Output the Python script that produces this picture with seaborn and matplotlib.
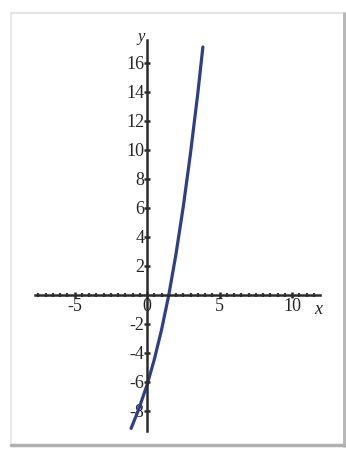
import numpy as np
import pandas as pd
import seaborn as sns
import matplotlib.pyplot as plt
from matplotlib.ticker import FixedLocator
from matplotlib.lines import Line2D

# curve points
curve_x = [-1.1, -0.6, 0.0, 0.5, 1.0, 1.5, 2.0, 2.5, 3.0, 3.5, 3.85]
curve_y = [-9.2, -7.95, -6.2, -4.45, -2.4, 0.0, 2.85, 6.1, 9.8, 13.9, 17.1]

x_ticks = [-5, 0, 5, 10]
x_tick_labels = ["-5", "0", "5", "10"]
y_ticks = [-8, -6, -4, -2, 2, 4, 6, 8, 10, 12, 14, 16]
y_tick_labels = ["-8", "-6", "-4", "-2", "2", "4", "6", "8", "10", "12", "14", "16"]

sns.set_style("white")
plt.rcParams['font.family'] = ['Liberation Serif', 'DejaVu Serif']

fig = plt.figure(figsize=(3.46, 4.5), dpi=100)
ax = fig.add_axes([0, 0, 1, 1])
ax.patch.set_alpha(0)

data = pd.DataFrame({"x": curve_x, "y": curve_y})
sns.lineplot(data=data, x="x", y="y", ax=ax, color="#2e3f88", linewidth=2.3, sort=False)

# axes through the origin
ax.set_xlim(-10.14, 13.72)
ax.set_ylim(-10.69, 20.34)
for side in ["top", "right"]:
    ax.spines[side].set_visible(False)
ax.spines["left"].set_position(("data", 0))
ax.spines["bottom"].set_position(("data", 0))
ax.spines["left"].set_bounds(-9.4, 17.6)
ax.spines["bottom"].set_bounds(-7.7, 11.9)
for side in ["left", "bottom"]:
    ax.spines[side].set_color("#2a2a2a")
    ax.spines[side].set_linewidth(1.8)

ax.xaxis.set_major_locator(FixedLocator(x_ticks))
ax.set_xticklabels(x_tick_labels)
ax.xaxis.set_minor_locator(FixedLocator(list(np.arange(-7.5, 11.6, 0.5))))
ax.yaxis.set_major_locator(FixedLocator(y_ticks))
ax.set_yticklabels(y_tick_labels)

ax.tick_params(axis="both", which="both", bottom=True, left=True)
ax.tick_params(axis="both", which="major", direction="inout", length=4, width=1.8,
               color="#2a2a2a", labelsize=13, labelcolor="#262626", pad=0)
ax.tick_params(axis="x", which="minor", direction="inout", length=3, width=1.6, color="#3a3a3a")
ax.set_xlabel("")
ax.set_ylabel("")

ax.text(11.8, -0.4, "x", fontsize=13, style="italic", color="#262626", ha="center", va="top")
ax.text(-0.15, 17.8, "y", fontsize=12, style="italic", color="#262626", ha="right", va="center")

# scanned frame around the figure
fig.add_artist(Line2D([11 / 346, 344 / 346], [1 - 13 / 450, 1 - 13 / 450],
                      transform=fig.transFigure, color="#e4e4e4", linewidth=1.5))
fig.add_artist(Line2D([11 / 346, 11 / 346], [1 - 13 / 450, 1 - 445 / 450],
                      transform=fig.transFigure, color="#e8e8e8", linewidth=1.5))
fig.add_artist(Line2D([344 / 346, 344 / 346], [1 - 13 / 450, 1 - 446 / 450],
                      transform=fig.transFigure, color="#b5b5b5", linewidth=2))
fig.add_artist(Line2D([11 / 346, 344 / 346], [1 - 445 / 450, 1 - 445 / 450],
                      transform=fig.transFigure, color="#b0b0b0", linewidth=2.5))

fig.savefig("out.png", dpi=100)
plt.close(fig)
